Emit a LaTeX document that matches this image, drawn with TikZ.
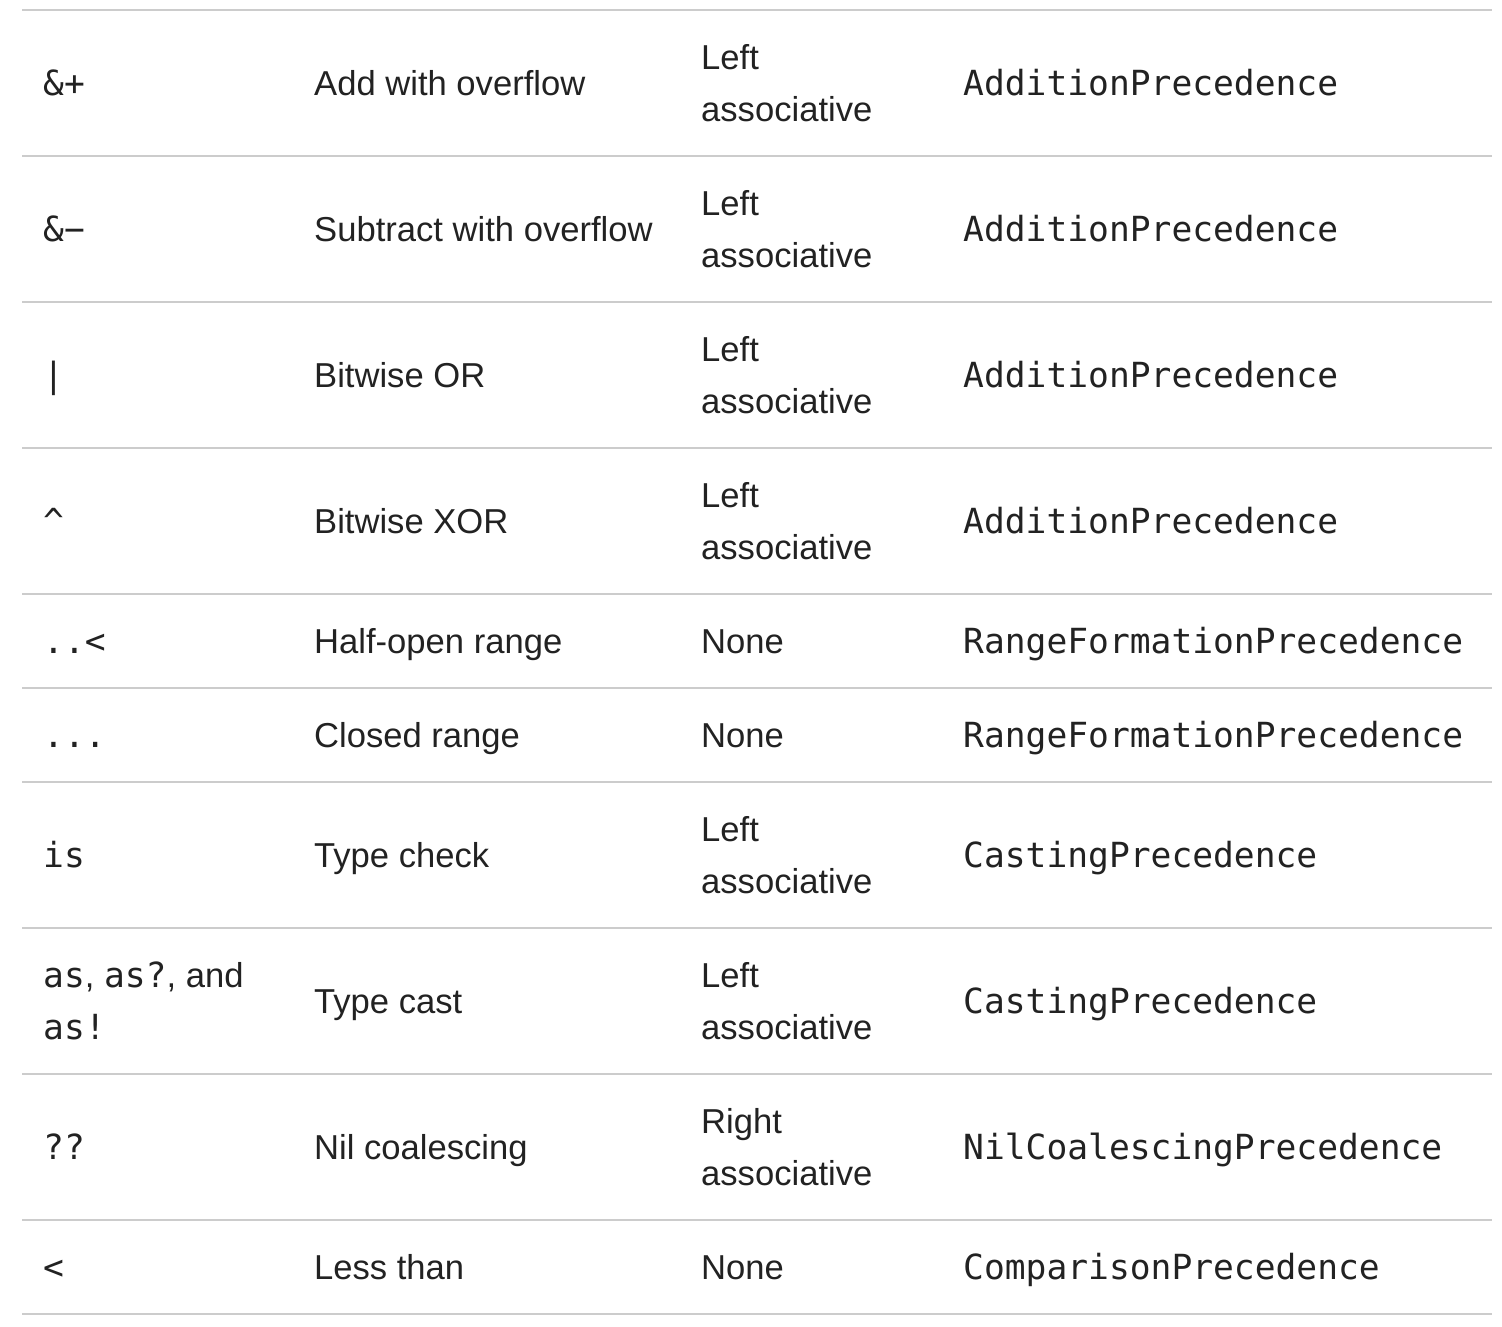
\documentclass[tikz,border=0pt]{standalone}
\usepackage{fontspec}
\setmainfont{Liberation Sans}
\setmonofont{DejaVu Sans Mono}
\definecolor{ink}{HTML}{222222}
\definecolor{rulegray}{HTML}{CCCCCC}
\tikzset{
  cell/.style={anchor=base west, inner sep=0pt, text=ink, font=\fontsize{34.6}{52}\selectfont},
  code/.style={cell, font=\fontsize{34.6}{52}\selectfont\ttfamily},
  sepline/.style={draw=rulegray, line width=2pt},
}

\begin{document}
\begin{tikzpicture}[x=1pt, y=-1pt]
    \useasboundingbox (0,0) rectangle (1502,1326);
    % row separators
    \foreach \y [count=\i] in {10,156,302,448,594,688,782,928,1074,1220,1314}{
        \coordinate (l\i) at (22,\y);
        \coordinate (r\i) at (1492,\y);
        \draw[sepline] (l\i) -- (r\i);
    }
    % row 1
    \node[code] (op1) at (43,95) {\&+};
    \node[cell] (nm1) at (314,95) {Add with overflow};
    \node[cell] (as1a) at (701,69) {Left};
    \node[cell] (as1b) at (701,121) {associative};
    \node[code] (pr1) at (963,95) {AdditionPrecedence};
    % row 2
    \node[code] (op2) at (43,241) {\&−};
    \node[cell] (nm2) at (314,241) {Subtract with overflow};
    \node[cell] (as2a) at (701,215) {Left};
    \node[cell] (as2b) at (701,267) {associative};
    \node[code] (pr2) at (963,241) {AdditionPrecedence};
    % row 3
    \node[code] (op3) at (43,387) {|};
    \node[cell] (nm3) at (314,387) {Bitwise OR};
    \node[cell] (as3a) at (701,361) {Left};
    \node[cell] (as3b) at (701,413) {associative};
    \node[code] (pr3) at (963,387) {AdditionPrecedence};
    % row 4
    \node[code] (op4) at (43,533) {\^{}};
    \node[cell] (nm4) at (314,533) {Bitwise XOR};
    \node[cell] (as4a) at (701,507) {Left};
    \node[cell] (as4b) at (701,559) {associative};
    \node[code] (pr4) at (963,533) {AdditionPrecedence};
    % row 5
    \node[code] (op5) at (43,653) {..<};
    \node[cell] (nm5) at (314,653) {Half-open range};
    \node[cell] (as5) at (701,653) {None};
    \node[code] (pr5) at (963,653) {RangeFormationPrecedence};
    % row 6
    \node[code] (op6) at (43,747) {...};
    \node[cell] (nm6) at (314,747) {Closed range};
    \node[cell] (as6) at (701,747) {None};
    \node[code] (pr6) at (963,747) {RangeFormationPrecedence};
    % row 7
    \node[code] (op7) at (43,867) {is};
    \node[cell] (nm7) at (314,867) {Type check};
    \node[cell] (as7a) at (701,841) {Left};
    \node[cell] (as7b) at (701,893) {associative};
    \node[code] (pr7) at (963,867) {CastingPrecedence};
    % row 8
    \node[cell] (op8a) at (43,987) {{\ttfamily as}, {\ttfamily as?}, and};
    \node[code] (op8b) at (43,1039) {as!};
    \node[cell] (nm8) at (314,1013) {Type cast};
    \node[cell] (as8a) at (701,987) {Left};
    \node[cell] (as8b) at (701,1039) {associative};
    \node[code] (pr8) at (963,1013) {CastingPrecedence};
    % row 9
    \node[code] (op9) at (43,1159) {??};
    \node[cell] (nm9) at (314,1159) {Nil coalescing};
    \node[cell] (as9a) at (701,1133) {Right};
    \node[cell] (as9b) at (701,1185) {associative};
    \node[code] (pr9) at (963,1159) {NilCoalescingPrecedence};
    % row 10
    \node[code] (op10) at (43,1279) {<};
    \node[cell] (nm10) at (314,1279) {Less than};
    \node[cell] (as10) at (701,1279) {None};
    \node[code] (pr10) at (963,1279) {ComparisonPrecedence};
\end{tikzpicture}
\end{document}
